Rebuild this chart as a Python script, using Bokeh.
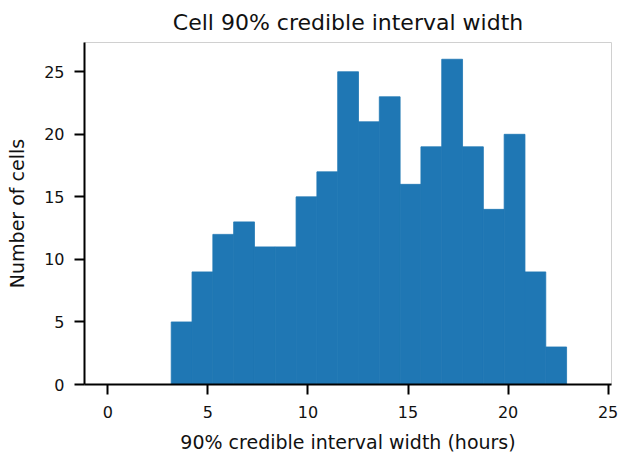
from bokeh.plotting import figure
from bokeh.models import Range1d, FixedTicker, ColumnDataSource
from bokeh.embed import file_html
from bokeh.resources import INLINE

# Histogram of per-cell 90% credible interval widths (hours)
bin_edges = [3.165, 4.205, 5.245, 6.285, 7.325, 8.365, 9.405, 10.445, 11.485,
             12.525, 13.565, 14.605, 15.645, 16.685, 17.725, 18.765, 19.805,
             20.845, 21.885, 22.925]
counts = [5, 9, 12, 13, 11, 11, 15, 17, 25, 21, 23, 16, 19, 26, 19, 14, 20, 9, 3]
x_ticks = [0, 5, 10, 15, 20, 25]
y_ticks = [0, 5, 10, 15, 20, 25]

source = ColumnDataSource(dict(
    left=bin_edges[:-1],
    right=bin_edges[1:],
    top=counts,
    bottom=[0] * len(counts),
))

FONT = "DejaVu Sans"
BAR = "#1f77b4"

p = figure(
    width=619, height=455,
    output_backend="svg", toolbar_location=None,
    x_range=Range1d(-1.17, 25.17), y_range=Range1d(0, 27.34),
    min_border_left=84, min_border_right=8,
    min_border_top=42, min_border_bottom=71,
    title="Cell 90% credible interval width",
)

# same-colour outline hides the antialiasing seams between adjacent bins
p.quad(left="left", right="right", top="top", bottom="bottom", source=source,
       fill_color=BAR, line_color=BAR, line_width=0.8)

p.title.text_font = FONT
p.title.text_font_size = "22px"
p.title.text_font_style = "normal"
p.title.text_color = "#111111"
p.title.align = "center"
p.title.standoff = 15

p.xgrid.visible = False
p.ygrid.visible = False
p.outline_line_color = "#d0d0d0"
p.outline_line_width = 1
p.background_fill_color = "white"
p.border_fill_color = "white"

p.xaxis.axis_label = "90% credible interval width (hours)"
p.yaxis.axis_label = "Number of cells"
p.xaxis.ticker = FixedTicker(ticks=x_ticks)
p.yaxis.ticker = FixedTicker(ticks=y_ticks)

for ax in (p.xaxis[0], p.yaxis[0]):
    ax.axis_line_color = "black"
    ax.axis_line_width = 2
    ax.major_tick_line_color = "black"
    ax.major_tick_line_width = 2
    ax.major_tick_out = 10
    ax.major_tick_in = 0
    ax.minor_tick_line_color = None
    ax.major_label_text_font = FONT
    ax.major_label_text_font_size = "16px"
    ax.major_label_text_color = "#111111"
    ax.axis_label_text_font = FONT
    ax.axis_label_text_font_size = "19px"
    ax.axis_label_text_font_style = "normal"
    ax.axis_label_text_color = "#111111"

p.xaxis.major_label_standoff = 11
p.xaxis.axis_label_standoff = 10
p.yaxis.major_label_standoff = 10
p.yaxis.axis_label_standoff = 13

open("out.html", "w").write(file_html(p, INLINE))
